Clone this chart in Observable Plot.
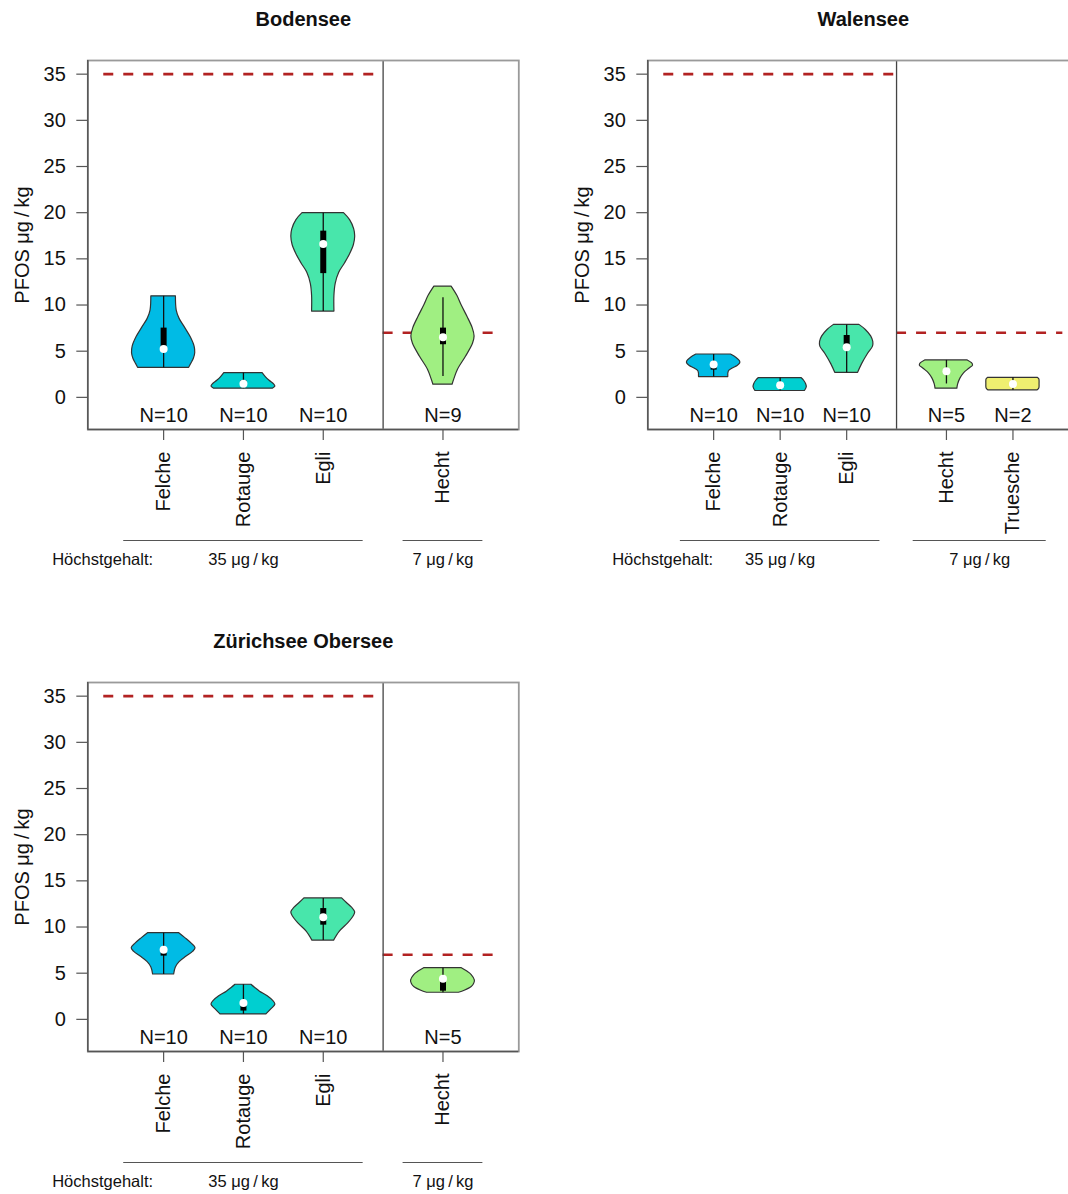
<!DOCTYPE html>
<html><head><meta charset="utf-8">
<script src="https://cdn.jsdelivr.net/npm/d3@7"></script>
<script src="https://cdn.jsdelivr.net/npm/@observablehq/plot@0.6"></script>
<style>
html,body{margin:0;padding:0;background:#fff;overflow:hidden}
#page{position:relative;width:1068px;height:1194px;overflow:hidden;background:#fff}
.panel{position:absolute;width:560px;height:600px}
.panel svg{max-width:none !important}
</style></head><body><div id="page"></div>
<script>
// ---------- data ----------
const limitValues = [35, 7];
const limitLabels = ["35 μg\u2009/\u2009kg", "7 μg\u2009/\u2009kg"];
const speciesColors = {Felche: "#00BBE5", Rotauge: "#00CFD0", Egli: "#48E6AB", Hecht: "#A0EF82", Truesche: "#EFEF70"};
const yTicks = [0, 5, 10, 15, 20, 25, 30, 35];

// Bodensee
const bodenseeSpecies = ["Felche", "Rotauge", "Egli", "Hecht"];
const bodenseeGroup = [0, 0, 0, 1];
const bodenseeN = [10, 10, 10, 9];
const bodenseeMedian = [5.25, 1.48, 16.6, 6.5];
const bodenseeQ1 = [5.0, 1.25, 13.4, 5.7];
const bodenseeQ3 = [7.5, 1.8, 18.0, 7.5];
const bodenseeLow = [3.2, 0.94, 9.29, 2.27];
const bodenseeHigh = [10.94, 2.63, 19.95, 10.8];
const bodenseeProfiles = [
  [[10.94,0.385],[9.4,0.41],[8.5,0.5],[7.6,0.66],[6.5,0.85],[5.5,0.97],[4.8,0.99],[4.2,0.95],[3.6,0.86],[3.2,0.8]],
  [[2.63,0.6],[2.2,0.7],[1.8,0.82],[1.4,0.96],[1.15,1.0],[0.94,0.92]],
  [[19.95,0.65],[19.2,0.84],[18.2,0.97],[17.4,1.0],[16.5,0.96],[15.5,0.84],[14.5,0.68],[13.5,0.5],[12.3,0.39],[11,0.35],[9.29,0.35]],
  [[12.0,0.27],[11.0,0.45],[10,0.58],[8.7,0.77],[7.5,0.93],[6.6,0.99],[5.8,0.94],[4.4,0.72],[3.0,0.47],[2.0,0.36],[1.37,0.3]]
];

// Walensee
const walenseeSpecies = ["Felche", "Rotauge", "Egli", "Hecht", "Truesche"];
const walenseeGroup = [0, 0, 0, 1, 1];
const walenseeN = [10, 10, 10, 5, 2];
const walenseeMedian = [3.56, 1.3, 5.43, 2.84, 1.44];
const walenseeQ1 = [2.95, 1.15, 5.3, 2.7, 1.44];
const walenseeQ3 = [3.7, 1.45, 6.7, 3.0, 1.44];
const walenseeLow = [2.2, 0.69, 2.66, 1.45, 0.76];
const walenseeHigh = [4.64, 2.09, 7.85, 4.0, 2.12];
const walenseeProfiles = [
  [[4.64,0.65],[4.3,0.85],[3.9,0.99],[3.7,1.0],[3.4,0.9],[3.1,0.7],[2.8,0.57],[2.2,0.55]],
  [[2.09,0.8],[1.8,0.9],[1.4,0.98],[1.1,1.0],[0.69,0.93]],
  [[7.85,0.48],[7.3,0.72],[6.6,0.92],[6.0,1.0],[5.5,0.99],[4.7,0.8],[3.6,0.58],[2.66,0.43]],
  [[4.0,0.8],[3.7,0.96],[3.45,1.0],[3.1,0.86],[2.6,0.66],[2.0,0.52],[1.4,0.44],[0.94,0.41]],
  [[2.12,0.93],[1.95,0.99],[1.44,1.0],[0.95,0.99],[0.76,0.93]]
];

// Zürichsee Obersee
const zurichSpecies = ["Felche", "Rotauge", "Egli", "Hecht"];
const zurichGroup = [0, 0, 0, 1];
const zurichN = [10, 10, 10, 5];
const zurichMedian = [7.53, 1.76, 11.05, 4.39];
const zurichQ1 = [6.85, 0.9, 10.2, 3.05];
const zurichQ3 = [7.7, 1.9, 12.0, 4.5];
const zurichLow = [4.86, 0.54, 8.53, 2.88];
const zurichHigh = [9.33, 3.75, 13.1, 5.54];
const zurichProfiles = [
  [[9.33,0.49],[8.8,0.68],[8.2,0.88],[7.7,1.0],[7.3,0.92],[6.8,0.72],[6.2,0.5],[5.6,0.38],[4.86,0.33]],
  [[3.75,0.25],[3.4,0.37],[3.0,0.52],[2.5,0.76],[2.0,0.93],[1.6,1.0],[1.1,0.88],[0.54,0.72]],
  [[13.1,0.59],[12.6,0.74],[12.1,0.9],[11.6,1.0],[11.2,0.96],[10.4,0.78],[9.5,0.52],[8.53,0.34]],
  [[5.54,0.59],[5.2,0.75],[4.8,0.9],[4.2,1.0],[3.8,0.97],[3.5,0.9],[3.1,0.68],[2.88,0.5]]
];

// ---------- drawing ----------
const FONT = "'Liberation Sans', Arial, Helvetica, sans-serif";
const W = 0.4; // max violin half-width in x units

function makePanel(cfg) {
  const {title, species, group, n, med, q1, q3, lo, hi, profiles} = cfg;
  const pos = species.map((s, i) => group[i] === 0 ? i + 1 : i + 1.5);
  const g0 = pos.filter((p, i) => group[i] === 0);
  const g1 = pos.filter((p, i) => group[i] === 1);
  const divider = (d3.max(g0) + d3.min(g1)) / 2;
  const xlo = 0.25, xhi = d3.max(pos) + 0.75;
  const ex = (xhi - xlo) * 0.04;
  const yr = [-2, 35];
  const ey = (yr[1] - yr[0]) * 0.04;
  const yDom = [yr[0] - ey, yr[1] + ey];
  const stats = species.map((s, i) => ({s, pos: pos[i], n: n[i], med: med[i], q1: q1[i], q3: q3[i], lo: lo[i], hi: hi[i]}));
  const groups = [g0, g1].map((g, k) => ({
    lo: d3.min(g) - 0.5, hi: d3.max(g) + 0.5, center: (d3.min(g) + d3.max(g)) / 2,
    limit: limitValues[k], label: limitLabels[k],
    x1: k === 0 ? xlo : divider, x2: k === 0 ? divider : xhi
  }));
  const violins = species.map((s, i) => Plot.areaX(
    profiles[i].map(([v, w]) => ({v, w})),
    {y: "v", x1: d => pos[i] - d.w * W, x2: d => pos[i] + d.w * W,
     fill: speciesColors[s], stroke: "#333", strokeWidth: 1.2, curve: "catmull-rom"}));

  return Plot.plot({
    width: 560, height: 600,
    marginLeft: 87.3, marginRight: 41.7, marginTop: 60, marginBottom: 171,
    x: {domain: [xlo - ex, xhi + ex]},
    y: {domain: yDom},
    style: {fontFamily: FONT, background: "white", color: "#111", overflow: "visible"},
    marks: [
      Plot.ruleY(groups, {y: "limit", x1: "x1", x2: "x2", stroke: "#b22222", strokeWidth: 2.6, strokeDasharray: "10,10"}),
      Plot.ruleX([divider], {stroke: "#444", strokeWidth: 1.3}),
      ...violins,
      Plot.ruleX(stats, {x: "pos", y1: "lo", y2: "hi", stroke: "#111", strokeWidth: 1.3}),
      Plot.ruleX(stats, {x: "pos", y1: "q1", y2: "q3", stroke: "#000", strokeWidth: 6}),
      Plot.dot(stats, {x: "pos", y: "med", r: 4, fill: "white"}),
      Plot.text(stats, {x: "pos", y: () => yr[0], text: d => "N=" + d.n, fontSize: 20, fill: "#111"}),
      Plot.frame({stroke: "#9a9a9a", strokeWidth: 1.8}),
      Plot.ruleX([xlo - ex], {stroke: "#555", strokeWidth: 1.5}),
      Plot.ruleY([yDom[0]], {stroke: "#555", strokeWidth: 1.5}),
      Plot.axisY(yTicks, {tickSize: 11, tickPadding: 11, fontSize: 20, stroke: "#555", strokeWidth: 1.2, fill: "#111", label: null}),
      Plot.axisX(pos, {tickFormat: d => species[pos.indexOf(d)], tickRotate: -90, tickSize: 11, tickPadding: 11,
        fontSize: 20, stroke: "#555", strokeWidth: 1.2, fill: "#111", label: null}),
      Plot.text(["PFOS μg\u2009/\u2009kg"], {text: d => d, frameAnchor: "left", textAnchor: "middle", lineAnchor: "middle",
        rotate: -90, dx: -65.5, fontSize: 20, fill: "#111"}),
      Plot.text([title], {text: d => d, frameAnchor: "top", lineAnchor: "middle", dy: -41.2, fontSize: 20, fontWeight: "bold", fill: "#111"}),
      Plot.ruleY(groups, {x1: "lo", x2: "hi", y: () => yDom[0], dy: 111, stroke: "#555", strokeWidth: 1.2}),
      Plot.text(["Höchstgehalt:"], {text: d => d, frameAnchor: "bottom-left", textAnchor: "start", lineAnchor: "middle",
        dx: -35.6, dy: 130.7, fontSize: 16.5, fill: "#111"}),
      Plot.text(groups, {x: "center", text: "label", frameAnchor: "bottom", lineAnchor: "middle", dy: 130.7, fontSize: 16.5, fill: "#111"})
    ]
  });
}

const page = document.getElementById("page");
function place(svg, left, top) {
  const div = document.createElement("div");
  div.className = "panel";
  div.style.left = left + "px";
  div.style.top = top + "px";
  div.appendChild(svg);
  page.appendChild(div);
}

place(makePanel({title: "Bodensee", species: bodenseeSpecies, group: bodenseeGroup, n: bodenseeN,
  med: bodenseeMedian, q1: bodenseeQ1, q3: bodenseeQ3, lo: bodenseeLow, hi: bodenseeHigh, profiles: bodenseeProfiles}), 0, 0);
place(makePanel({title: "Walensee", species: walenseeSpecies, group: walenseeGroup, n: walenseeN,
  med: walenseeMedian, q1: walenseeQ1, q3: walenseeQ3, lo: walenseeLow, hi: walenseeHigh, profiles: walenseeProfiles}), 560, 0);
place(makePanel({title: "Zürichsee Obersee", species: zurichSpecies, group: zurichGroup, n: zurichN,
  med: zurichMedian, q1: zurichQ1, q3: zurichQ3, lo: zurichLow, hi: zurichHigh, profiles: zurichProfiles}), 0, 621.5);
</script>
</body></html>
